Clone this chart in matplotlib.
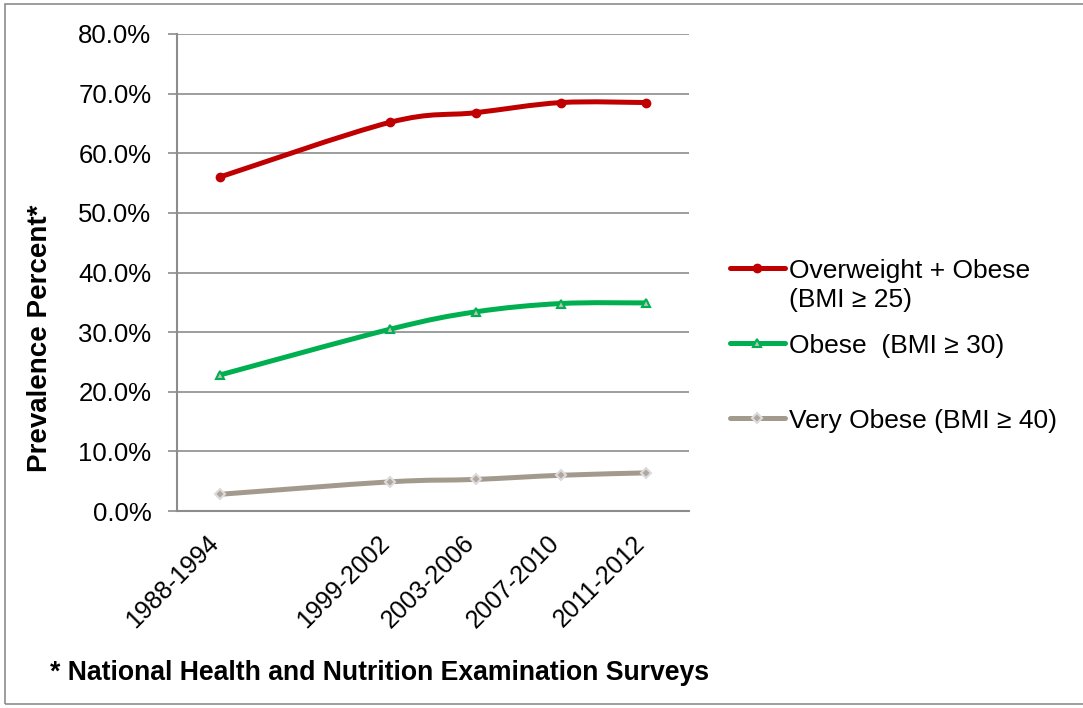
import matplotlib.pyplot as plt
import numpy as np
from matplotlib.path import Path
from matplotlib.patches import PathPatch, Rectangle
from matplotlib.lines import Line2D
from matplotlib.ticker import PercentFormatter

plt.rcParams['font.family'] = ['Liberation Sans', 'DejaVu Sans']

periods = ['1988-1994', '1999-2002', '2003-2006', '2007-2010', '2011-2012']
# category slots (Excel axis left an empty slot between the first two surveys)
slots = [0, 2, 3, 4, 5]
overweight = [56.0, 65.2, 66.8, 68.5, 68.5]
obese = [22.8, 30.5, 33.4, 34.8, 34.9]
very_obese = [2.8, 4.9, 5.3, 6.0, 6.4]

labels = ['Overweight + Obese\n(BMI \u2265 25)', 'Obese  (BMI \u2265 30)', 'Very Obese (BMI \u2265 40)']
colors = ['#C00000', '#00B050', '#A39A8E']


def smooth_path(x, y):
    # Catmull-Rom style bezier like Excel's smoothed lines
    pts = np.column_stack([x, y]).astype(float)
    verts = [pts[0]]
    codes = [Path.MOVETO]
    n = len(pts)
    for i in range(n - 1):
        p0 = pts[max(i - 1, 0)]
        p1 = pts[i]
        p2 = pts[i + 1]
        p3 = pts[min(i + 2, n - 1)]
        c1 = p1 + (p2 - p0) / 6.0
        c2 = p2 - (p3 - p1) / 6.0
        verts += [c1, c2, p2]
        codes += [Path.CURVE4] * 3
    return Path(verts, codes)


fig = plt.figure(figsize=(10.83, 7.08), dpi=100)
fig.patches.append(Rectangle((0.005, 0.006), 1.0, 0.988, transform=fig.transFigure,
                             fill=False, edgecolor='#8c8c8c', lw=1.2))
ax = fig.add_axes([0.1634, 0.2782, 0.4727, 0.6738])

series = [overweight, obese, very_obese]
markers = [
    dict(marker='o', markersize=6, markerfacecolor=colors[0], markeredgecolor=colors[0]),
    dict(marker='^', markersize=6, markerfacecolor='#bfbfbf', markeredgecolor=colors[1], markeredgewidth=1.5),
    dict(marker='D', markersize=5, markerfacecolor='#b0a89e', markeredgecolor='#dcdcdc', markeredgewidth=1.5),
]
for vals, c, m in zip(series, colors, markers):
    ax.add_patch(PathPatch(smooth_path(slots, vals), fill=False, edgecolor=c, lw=3.6,
                           capstyle='round', joinstyle='round', zorder=3))
    ax.plot(slots, vals, linestyle='none', zorder=4, **m)

ax.set_xlim(-0.5, 5.5)
ax.set_ylim(0, 80)
ax.set_yticks(np.arange(0, 81, 10))
ax.yaxis.set_major_formatter(PercentFormatter(decimals=1))
ax.set_xticks(slots)
ax.set_xticklabels(periods, rotation=45, ha='right', va='baseline', rotation_mode='anchor', fontsize=18)
ax.tick_params(axis='x', length=0, pad=24)
ax.tick_params(axis='y', length=6.5, width=1.2, color='#8c8c8c', labelsize=18.5, pad=12)
ax.grid(axis='y', color='#8c8c8c', lw=1.2)
ax.set_axisbelow(True)
for s in ['top', 'right']:
    ax.spines[s].set_visible(False)
for s in ['left', 'bottom']:
    ax.spines[s].set_color('#8c8c8c')
    ax.spines[s].set_linewidth(1.5)

fig.text(0.037, 0.522, 'Prevalence Percent*', rotation=90, fontsize=20, fontweight='bold',
         ha='center', va='center')
fig.text(0.046, 0.049, '* National Health and Nutrition Examination Surveys', fontsize=19.2,
         fontweight='bold', ha='left', va='center')

# legend drawn by hand to keep Excel's uneven spacing
leg_y = [1 - 268 / 708, 1 - 343 / 708, 1 - 418 / 708]
for lab, c, m, yy in zip(labels, colors, markers, leg_y):
    fig.add_artist(Line2D([730 / 1083, 785 / 1083], [yy, yy], color=c, lw=3.6,
                          solid_capstyle='round', transform=fig.transFigure))
    fig.add_artist(Line2D([757 / 1083], [yy], linestyle='none', transform=fig.transFigure, **m))
    fig.text(789 / 1083, yy + 0.013, lab, fontsize=19, ha='left', va='top', linespacing=1.25)

fig.savefig('out.png', dpi=100)
